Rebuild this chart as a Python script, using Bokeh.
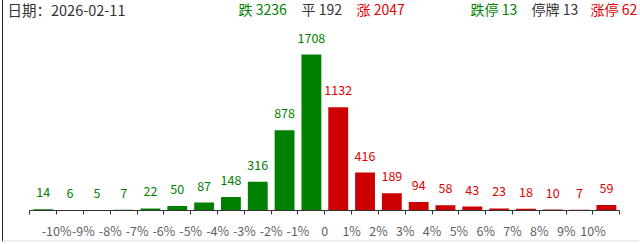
from bokeh.plotting import figure
from bokeh.models import ColumnDataSource, FixedTicker, Label, Range1d
from bokeh.core.properties import value
from bokeh.embed import file_html
from bokeh.resources import INLINE

# Distribution of daily price changes (number of stocks per 1% bucket)
tick_labels = ["-10%", "-9%", "-8%", "-7%", "-6%", "-5%", "-4%", "-3%", "-2%", "-1%",
               "0", "1%", "2%", "3%", "4%", "5%", "6%", "7%", "8%", "9%", "10%"]
down_counts = [14, 6, 5, 7, 22, 50, 87, 148, 316, 878, 1708]
up_counts = [1132, 416, 189, 94, 58, 43, 23, 18, 10, 7, 59]

date_text = "日期：2026-02-11"
summary_labels = ["跌", "平", "涨", "跌停", "停牌", "涨停"]
summary_values = [3236, 192, 2047, 13, 13, 62]

GREEN = "#008000"
RED = "#cc0000"
RED_TEXT = "#e00000"
DARK = "#333333"
FONT = "Noto Sans CJK SC"

counts = down_counts + up_counts
n = len(counts)
centers = [i + 0.5 for i in range(n)]
bar_colors = [GREEN] * len(down_counts) + [RED] * len(up_counts)
text_colors = [GREEN] * len(down_counts) + [RED_TEXT] * len(up_counts)
src = ColumnDataSource(dict(x=centers, top=counts, label=[str(c) for c in counts],
                            fill=bar_colors, tcol=text_colors))

W, H = 637, 242
BOTTOM = 29
px_per_unit = 590 / n
x0 = -26.3 / px_per_unit
x1 = n + (W - 26.3 - 590) / px_per_unit

p = figure(width=W, height=H, output_backend="svg", toolbar_location=None,
           x_range=Range1d(x0, x1), y_range=Range1d(0, 2300),
           min_border_left=0, min_border_right=0, min_border_top=0,
           min_border_bottom=BOTTOM, outline_line_color=None,
           background_fill_color="white", border_fill_color="white")
p.styles = {"margin-left": "2px", "border-left": "1px solid #222",
            "border-bottom": "2px solid #eeeeee"}
p.grid.visible = False
p.yaxis.visible = False

p.vbar(x="x", top="top", width=0.74, bottom=0, source=src,
       fill_color="fill", line_color=None)
p.text(x="x", y="top", text="label", source=src, text_color="tcol",
       text_align="center", text_baseline="middle", y_offset=-17,
       text_font=value(FONT), text_font_size="12.5px")

ax = p.xaxis[0]
ax.bounds = (0, n)
ax.ticker = FixedTicker(ticks=list(range(n + 1)))
ax.major_label_overrides = {i: "" for i in range(n + 1)}
for i, lab in enumerate(tick_labels):
    ax.major_label_overrides[i + 1] = lab
ax.major_tick_in = 0
ax.major_tick_out = 4
ax.minor_tick_line_color = None
ax.axis_line_color = DARK
ax.major_tick_line_color = DARK
ax.major_label_standoff = 6
ax.major_label_text_color = "#5f5f5f"
ax.major_label_text_font = FONT
ax.major_label_text_font_size = "12.5px"

# Header line: date on the left, market breadth summary on the right
header_y = 213 - 11.5
p.add_layout(Label(x=4, y=header_y, x_units="screen", y_units="screen", text=date_text,
                   text_color=DARK, text_font=FONT, text_font_size="14.5px",
                   text_baseline="middle"))
summary_x = [235, 298, 353, 467, 528, 587]
summary_colors = [GREEN, DARK, RED_TEXT, GREEN, DARK, RED_TEXT]
for lab, val, sx, col in zip(summary_labels, summary_values, summary_x, summary_colors):
    p.add_layout(Label(x=sx, y=header_y, x_units="screen", y_units="screen",
                       text=f"{lab} {val}", text_color=col, text_font=FONT,
                       text_font_size="14px", text_baseline="middle"))

open("out.html", "w").write(file_html(p, INLINE))
